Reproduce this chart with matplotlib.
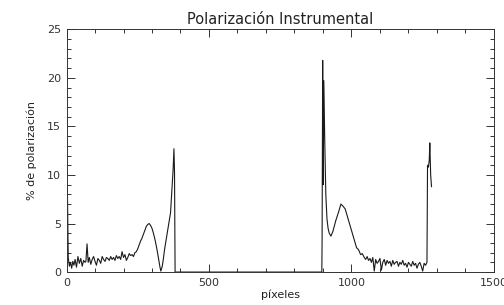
import numpy as np
import matplotlib.pyplot as plt
from matplotlib.ticker import MultipleLocator

# tramo 1 (lado izquierdo)
x1 = [0, 3, 6, 10, 14, 18, 22, 26, 30, 35, 40, 45, 50, 55, 60, 65, 68, 72, 76, 80,
      85, 90, 95, 100, 105, 110, 115, 120, 125, 130, 135, 140, 145, 150, 155, 160,
      165, 170, 175, 180, 185, 190, 195, 200, 205, 210, 215, 220, 225, 230, 235,
      240, 245, 250, 255, 260, 265, 270, 275, 280, 285, 290, 295, 300, 305, 310,
      315, 320, 325, 328, 331, 336, 340, 345, 350, 355, 360, 365, 370, 374, 377,
      379, 381]
y1 = [9.0, 8.5, 1.5, 0.6, 1.0, 0.4, 1.1, 0.7, 1.3, 0.5, 1.6, 0.9, 1.4, 0.6, 1.2,
      1.0, 1.1, 2.9, 1.0, 1.5, 0.8, 1.3, 1.6, 1.1, 0.7, 1.4, 1.2, 0.9, 1.6, 1.3,
      1.1, 1.5, 1.4, 1.2, 1.6, 1.3, 1.5, 1.2, 1.7, 1.4, 1.6, 1.3, 2.1, 1.5, 1.8,
      1.2, 1.5, 1.9, 1.7, 1.8, 1.6, 2.0, 2.1, 2.4, 2.8, 3.2, 3.5, 3.9, 4.3, 4.7,
      4.9, 5.0, 4.8, 4.5, 4.0, 3.4, 2.7, 1.9, 1.0, 0.5, 0.1, 0.6, 1.4, 2.5, 3.4,
      4.3, 5.2, 6.1, 8.5, 10.5, 12.7, 10.3, 0.0]

# tramo 2 (lado derecho)
x2 = [381, 896, 897, 899, 901, 903, 906, 910, 914, 918, 922, 928, 935, 945, 955,
      963, 970, 978, 985, 995, 1005, 1012, 1018, 1025, 1032, 1038, 1045, 1050,
      1055, 1060, 1065, 1070, 1075, 1080, 1085, 1090, 1095, 1100, 1105, 1110,
      1115, 1120, 1125, 1130, 1135, 1140, 1145, 1150, 1155, 1160, 1165, 1170,
      1175, 1180, 1185, 1190, 1195, 1200, 1205, 1210, 1215, 1220, 1225, 1230,
      1235, 1240, 1245, 1250, 1255, 1260, 1265, 1267, 1270, 1273, 1275, 1278, 1281]
y2 = [0.0, 0.0, 3.5, 21.8, 9.0, 19.7, 14.0, 8.0, 5.5, 4.5, 4.0, 3.7, 4.2, 5.3,
      6.2, 7.0, 6.8, 6.5, 5.8, 4.8, 3.8, 3.1, 2.5, 2.3, 1.8, 1.9, 1.5, 1.3, 1.6,
      1.2, 1.4, 1.0, 1.5, 0.1, 1.3, 0.9, 1.1, 1.4, 0.2, 1.0, 1.3, 0.7, 1.2, 0.9,
      1.1, 0.6, 1.2, 0.8, 1.0, 1.1, 0.6, 1.0, 0.8, 1.2, 0.7, 0.9, 0.5, 1.0, 0.8,
      0.6, 1.1, 0.7, 0.9, 0.4, 0.8, 1.0, 0.6, 0.1, 0.9, 0.7, 1.0, 11.0, 10.8,
      11.5, 13.3, 10.0, 8.8]

fig = plt.figure(figsize=(5.04, 3.05), dpi=100)
ax = fig.add_axes([0.132, 0.108, 0.848, 0.796])

ax.plot(x1 + x2, y1 + y2, color='#1a1a1a', linewidth=0.8)

ax.set_xlim(0, 1500); ax.set_ylim(0, 25)
ax.xaxis.set_major_locator(MultipleLocator(500)); ax.xaxis.set_minor_locator(MultipleLocator(100))
ax.yaxis.set_major_locator(MultipleLocator(5)); ax.yaxis.set_minor_locator(MultipleLocator(1))
ax.tick_params(which='both', direction='in', top=True, right=True, colors='#333333',
               labelsize=8, width=0.7)
ax.tick_params(which='major', length=5.5, pad=4)
ax.tick_params(which='minor', length=2.8)
for s in ax.spines.values():
    s.set_linewidth(0.7); s.set_color('#333333')

ax.set_title("Polarización Instrumental", fontsize=10.5, color='#222222', pad=4)
ax.set_xlabel("píxeles", fontsize=8, color='#222222', labelpad=1)
ax.set_ylabel("% de polarización", fontsize=8, color='#222222', labelpad=7)

fig.savefig("out.png", dpi=100)
